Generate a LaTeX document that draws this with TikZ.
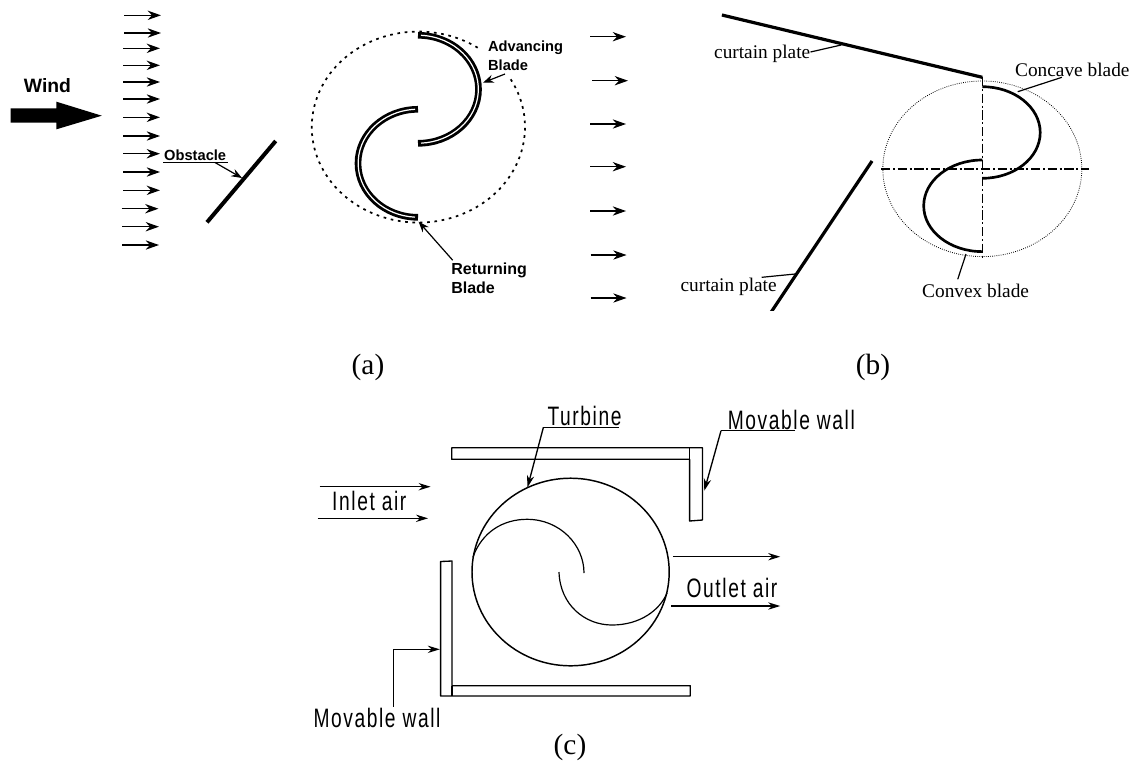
\documentclass[tikz,border=0pt]{standalone}
\usepackage{fontspec}
\setmainfont{Liberation Serif}
\setsansfont{Liberation Sans}
\newfontfamily\isofont[FakeStretch=0.72,LetterSpace=6]{Liberation Sans}
\usetikzlibrary{arrows.meta}

\begin{document}
\begin{tikzpicture}[
    x=0.75pt, y=-0.75pt,
    >={Stealth[length=10pt,width=7pt]},
    flow/.style={->, line width=1.1pt},
    leader/.style={line width=0.9pt},
    tipline/.style={->, line width=0.9pt, >={Stealth[length=8pt,width=6pt]}},
    plate/.style={line width=2.4pt},
    blade/.style={line width=5pt},
    bladecore/.style={line width=0.9pt, white},
    bladeplain/.style={line width=2pt},
    rotor/.style={dash pattern=on 2pt off 3.5pt, line width=1.3pt},
    rotorthin/.style={densely dotted, line width=0.6pt},
    axis/.style={dash pattern=on 7pt off 2pt on 1.5pt off 2pt, line width=0.9pt},
    wall/.style={draw, line width=1pt, line join=round},
    ink/.style={line width=0.9pt},
    inlet/.style={->, line width=1pt, >={Stealth[length=9pt,width=5.5pt]}},
    lblsans/.style={inner sep=1pt, align=left, font=\sffamily\bfseries\fontsize{11}{14.25}\selectfont},
    lblserif/.style={inner sep=0pt, font=\fontsize{14.5}{16}\selectfont},
    lbliso/.style={inner sep=1pt, text height=14pt, text depth=0pt, font=\isofont\fontsize{20}{22}\selectfont},
    caption/.style={inner sep=0pt, font=\fontsize{22}{24}\selectfont}
]
\useasboundingbox (0,0) rectangle (1137,765);

% (a) wind and obstacle
\foreach \xa/\ya in {124/15.3,124/33,123/48.3,123/65.3,123/82,123/99,123/117.3,123/136,123/153.7,123/172,123/190.3,121.5/208.7,122/226.7,122/245}
  \draw[flow] (\xa,\ya) -- ++(37,0);
\fill (10.7,108.3) -- (56.4,108.3) -- (56.4,101.7) -- (101.8,115.7) -- (56.4,129.3) -- (56.4,122.7) -- (10.7,122.7) -- cycle;
\node[font=\sffamily\bfseries\fontsize{14.5}{16}\selectfont, inner sep=0pt] (wind) at (47.5,86) {Wind};

\draw[plate, line width=3pt] (275.7,141) -- (207,222.3);
\node[lblsans, anchor=south west, text height=8pt, text depth=0pt] (obstacle) at (162.6,162.5) {Obstacle};
\coordinate (obstacletip) at (242,178);
\draw[leader] (obstacle.south east) -- (obstacle.south west);
\draw[tipline] (215,162.5) -- (obstacletip);

% (a) rotor
\draw[rotor] (510.7,79.3) arc[start angle=-30, end angle=305.6, x radius=106.6, y radius=95.5];
\draw[blade] (418,35.3) arc[start angle=-90, end angle=90, x radius=60.5, y radius=54];
\draw[bladecore] (421,35.3) arc[start angle=-87, end angle=87, x radius=60.5, y radius=54];
\draw[blade] (418,109.3) arc[start angle=-90, end angle=-270, x radius=60, y radius=54];
\draw[bladecore] (415,109.3) arc[start angle=-93, end angle=-267, x radius=60, y radius=54];

\node[lblsans, anchor=west] (advancing) at (486.5,56.2) {Advancing\\Blade};
\coordinate (advancingtip) at (483,82.7);
\draw[tipline] (505,74) -- (advancingtip);
\node[lblsans, anchor=west, font=\sffamily\bfseries\fontsize{12}{14.25}\selectfont] (returning) at (449.7,278.2) {Returning\\Blade};
\coordinate (returningtip) at (418.6,221.7);
\draw[tipline] (returning.north west) ++(3,-1) -- (returningtip);
\node[caption] (capa) at (368,367) {(a)};

% (b) wind
\foreach \xb/\yb in {590/36.7,592/80.7,590/124,590/166.7,590/211,590.5/255,590.5/298}
  \draw[flow, line width=0.9pt] (\xb,\yb) -- ++(36,0);

% (b) plates
\draw[plate] (721.9,15) -- (982.3,77.3);
\begin{scope}
  \clip (700,150) rectangle (900,310);
  \draw[plate] (872,161) -- (768.5,316);
\end{scope}
\node[lblserif] (plateone) at (762.2,54) {curtain plate};
\node[lblserif] (platetwo) at (728.6,286.7) {curtain plate};
\coordinate (plateonetip) at (841.2,45);
\coordinate (platetwotip) at (795,274);
\draw[leader] (plateone.east) ++(0,-2) -- (plateonetip);
\draw[leader] (761.7,277.3) -- (platetwotip);

% (b) rotor
\draw[rotorthin] (982.3,168.8) ellipse[x radius=99.5, y radius=87.8];
\draw[axis] (982.3,77) -- (982.3,260);
\draw[axis] (881,169) -- (1089,169);
\draw[bladeplain] (982.3,86.7) arc[start angle=-90, end angle=90, x radius=57.9, y radius=45.8];
\draw[bladeplain] (982.3,160) arc[start angle=-90, end angle=-270, x radius=58.6, y radius=45.8];

\node[lblserif] (concave) at (1072.3,70) {Concave blade};
\node[lblserif] (convex) at (975.6,290.7) {Convex blade};
\coordinate (concavetip) at (1017.7,91.7);
\coordinate (convextip) at (966,254);
\draw[leader] (1061.9,77.3) -- (concavetip);
\draw[leader] (957.7,279.3) -- (convextip);
\node[caption] (capb) at (873,367) {(b)};

% (c) walls
\draw[wall] (451.7,447.7) -- (702.5,447.7) -- (702.5,520) -- (689.6,521) -- (689.6,459.3) -- (451.7,459.3) -- cycle;
\draw[wall] (689.6,447.7) -- (689.6,459.3);
\draw[wall] (440.6,561.5) -- (452,561) -- (452,685.7) -- (690.3,685.7) -- (690.3,696) -- (440.6,696) -- cycle;
\draw[wall] (452,685.7) -- (452,696);

% (c) turbine
\draw[ink, line width=1.1pt] (570.6,572) ellipse[x radius=98.6, y radius=93.8];
\draw[ink] (473,557) .. controls (482,532) and (503,519.3) .. (527,519.3) .. controls (560,519.3) and (584,545) .. (584,573);
\draw[ink] (559,572) .. controls (560,605) and (585,625) .. (612,625) .. controls (640,625) and (660,610) .. (667,593);

% (c) air
\draw[inlet] (319.6,486.7) -- (430.6,486.7);
\draw[inlet] (317.7,518.3) -- (428,518.3);
\draw[inlet] (672.9,556.7) -- (780.2,556.7);
\draw[inlet] (671,606) -- (780.2,606);
\node[lbliso, inner sep=0pt] (inlettext) at (369.3,501) {Inlet air};
\node[lbliso, inner sep=0pt] (outlettext) at (732,587.7) {Outlet air};

% (c) labels
\node[lbliso, anchor=south] (turbine) at (584.5,427.3) {Turbine};
\node[lbliso, anchor=south] (wallone) at (791.3,430.7) {Movable wall};
\node[lbliso, inner sep=0pt] (walltwo) at (377,718.3) {Movable wall};
\coordinate (turbinetip) at (527.5,487.3);
\coordinate (wallonetip) at (704.3,490.7);
\coordinate (walltwotip) at (439.8,649.3);
\draw[leader] (618.5,427.3) -- (543.4,427.3);
\draw[inlet] (543.4,427.3) -- (turbinetip);
\draw[leader] (795,430.7) -- (721,430.7);
\draw[inlet] (721,430.7) -- (wallonetip);
\draw[inlet] (393.6,706.7) |- (walltwotip);
\node[caption] (capc) at (570,747) {(c)};
\end{tikzpicture}
\end{document}
